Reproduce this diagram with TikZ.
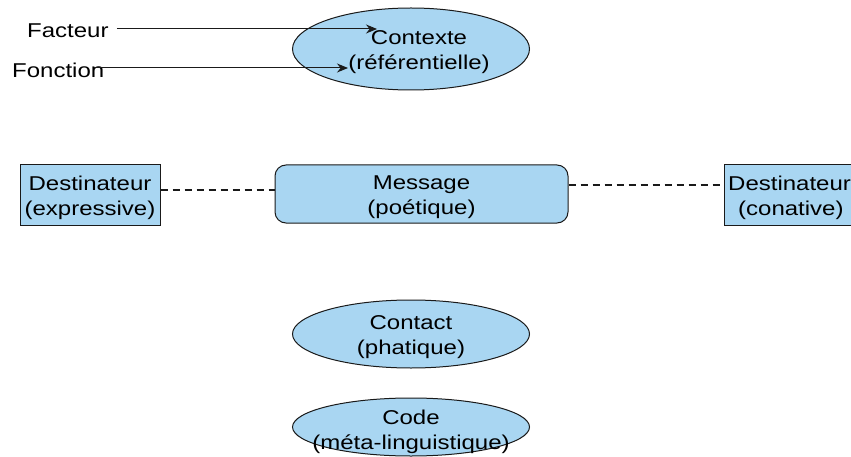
\documentclass[tikz,border=0pt]{standalone}
\usepackage{fontspec}
\setmainfont{Liberation Sans}[FakeStretch=1.2]
\usepackage{xcolor}
\usepackage{tikz}
\usetikzlibrary{shapes.geometric,arrows.meta}
\definecolor{bleu}{HTML}{A9D6F2}
\definecolor{trait}{HTML}{1A1A1A}
\tikzset{
  lab/.style={font=\fontsize{20}{25.5}\selectfont, align=center, inner sep=0pt},
  txt/.style={lab, yshift=-3pt},
  bulle/.style={ellipse, draw=trait, fill=bleu, line width=1pt, minimum width=237pt, inner sep=0pt},
  boite/.style={rectangle, draw=trait, fill=bleu, line width=1pt, minimum height=60pt, inner sep=0pt},
  fleche/.style={draw=trait, line width=1pt, -{Stealth[length=11pt,width=9pt]}},
  pointille/.style={draw=trait, line width=2.6pt, dash pattern=on 7pt off 5pt},
}

\begin{document}
\begin{tikzpicture}[x=1pt,y=-1pt]
  \useasboundingbox (0,0) rectangle (851,457);

  % formes
  \node[bulle, minimum height=82pt] (contexte) at (411,49) {};
  \node[boite, rounded corners=11pt, minimum width=293pt, minimum height=58pt] (message) at (421.5,194) {};
  \node[boite, minimum width=140pt] (destg) at (90,195) {};
  \node[boite, minimum width=128pt, anchor=west] (destd) at (724,195) {};
  \node[bulle, minimum height=68pt] (contact) at (411,334) {};
  \node[bulle, minimum height=58pt] (code) at (411,427) {};

  % textes
  \node[txt] (tcontexte) at ([xshift=8pt]contexte.center) {Contexte\\(référentielle)};
  \node[txt] (tmessage) at (message.center) {Message\\(poétique)};
  \node[txt] (tdestg) at (destg.center) {Destinateur\\(expressive)};
  \node[txt, align=left, anchor=west] (tdestd) at ([xshift=4pt]destd.west) {Destinateur\\\hspace*{10pt}(conative)};
  \node[txt] (tcontact) at (contact.center) {Contact\\(phatique)};
  \node[txt, yshift=-2pt] (tcode) at (code.center) {Code\\(méta-linguistique)};

  % legende
  \node[lab, anchor=west] (facteur) at (27,31) {Facteur};
  \node[lab, anchor=west] (fonction) at (12,70) {Fonction};
  \coordinate (pfacteur) at (377,29);
  \coordinate (pfonction) at (348,68);
  \draw[fleche] ([xshift=8pt]facteur.east |- pfacteur) -- (pfacteur);
  \draw[fleche] ([xshift=-10pt]fonction.east |- pfonction) -- (pfonction);

  \draw[pointille] ([yshift=5pt]destg.east) -- ([yshift=5pt]destg.east -| message.west);
  \draw[pointille] ([yshift=9pt]message.east) -- ([yshift=9pt]message.east -| destd.west);
\end{tikzpicture}
\end{document}
